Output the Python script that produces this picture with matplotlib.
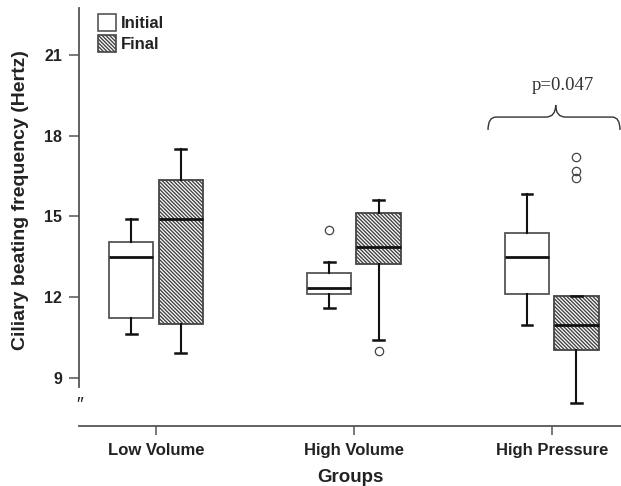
import matplotlib
matplotlib.use("Agg")
import matplotlib.pyplot as plt
from matplotlib.patches import Patch, PathPatch
from matplotlib.path import Path
from matplotlib.transforms import blended_transform_factory

plt.rcParams["font.family"] = ["Liberation Sans", "DejaVu Sans"]
plt.rcParams["hatch.linewidth"] = 1.0

groups = ["Low Volume", "High Volume", "High Pressure"]
# five-number summaries: (whislo, q1, med, q3, whishi)
initial = [(10.64, 11.22, 13.50, 14.06, 14.91),
           (11.61, 12.12, 12.33, 12.89, 13.31),
           (10.96, 12.13, 13.49, 14.37, 15.85)]
final = [(9.90, 10.99, 14.91, 16.37, 17.51),
         (10.40, 13.23, 13.88, 15.14, 15.62),
         (8.07, 10.04, 10.97, 12.03, 12.03)]
initial_out = [[], [14.49], []]
final_out = [[], [10.0], [17.20, 16.71, 16.42]]
yticks = [9, 12, 15, 18, 21]
p_text = "p=0.047"

EDGE, DARK = "#555555", "#111111"
OFF, W = 0.125, 0.224
HATCH = "\\" * 9


def stats(rows, outs):
    return [dict(whislo=a, q1=b, med=c, q3=d, whishi=e, fliers=f)
            for (a, b, c, d, e), f in zip(rows, outs)]


fig = plt.figure(figsize=(6.21, 4.86), dpi=100)
ax = fig.add_axes([79 / 621, 1 - 426 / 486, 542 / 621, 418 / 486])

props = dict(widths=W, patch_artist=True, manage_ticks=False, capwidths=0.055,
             whiskerprops=dict(color=DARK, lw=1.5),
             capprops=dict(color=DARK, lw=1.8),
             medianprops=dict(color=DARK, lw=2.0),
             flierprops=dict(marker="o", ms=6, mfc="none", mec="#444444", mew=0.9))
xs = range(len(groups))
ax.bxp(stats(initial, initial_out), positions=[x - OFF for x in xs],
       boxprops=dict(facecolor="white", edgecolor=EDGE, lw=1.3), **props)
ax.bxp(stats(final, final_out), positions=[x + OFF for x in xs],
       boxprops=dict(facecolor="white", edgecolor="#444444", lw=1.3, hatch=HATCH), **props)

ax.set_xlim(-0.389, 2.35)
ax.set_ylim(7.20, 22.76)
ax.spines[["top", "right"]].set_visible(False)
for s in ("left", "bottom"):
    ax.spines[s].set_color(EDGE)
    ax.spines[s].set_linewidth(1.3)
ax.spines["left"].set_bounds(8.66, 22.76)
ax.set_yticks(yticks)
ax.set_xticks(list(xs), groups)
ax.tick_params(axis="y", length=7, width=1.1, color=EDGE, pad=5, labelsize=11.5)
ax.tick_params(axis="x", length=6.5, width=1.1, color=EDGE, pad=6, labelsize=12)
for lab in ax.get_xticklabels() + ax.get_yticklabels():
    lab.set_fontweight("bold")
    lab.set_color("#222222")

ax.set_ylabel("Ciliary beating frequency (Hertz)", fontsize=14, fontweight="bold",
              color="#222222")
ax.yaxis.set_label_coords(-0.092, 0.541)
ax.set_xlabel("Groups", fontsize=13.5, fontweight="bold", color="#222222", labelpad=7.5)

# axis break mark
tr = blended_transform_factory(ax.transAxes, ax.transData)
ax.text(0.0, 7.95, "\u2033", transform=tr, ha="center", va="center",
        fontsize=14, style="italic", color="#222222")

# brace over the High Pressure group
x0, x1, xm = 1.678, 2.345, 2.02
ye, yl, yp = 18.22, 18.70, 19.15
verts = [(x0, ye), (x0, yl), (x0 + 0.04, yl), (x0 + 0.06, yl),
         (xm - 0.05, yl), (xm, yl), (xm, yp),
         (xm, yl), (xm + 0.05, yl),
         (x1 - 0.06, yl), (x1 - 0.04, yl), (x1, yl), (x1, ye)]
codes = [Path.MOVETO, Path.CURVE3, Path.CURVE3, Path.LINETO,
         Path.LINETO, Path.CURVE3, Path.CURVE3,
         Path.CURVE3, Path.CURVE3,
         Path.LINETO, Path.LINETO, Path.CURVE3, Path.CURVE3]
ax.add_patch(PathPatch(Path(verts, codes), fill=False, ec="#333333", lw=1.0,
                       clip_on=False))
ax.text(2.057, 19.86, p_text, ha="center", va="center", fontsize=13.5,
        family=["Liberation Serif", "DejaVu Serif"], color="#333333")

handles = [Patch(facecolor="white", edgecolor=EDGE, lw=1.2, label="Initial"),
           Patch(facecolor="white", edgecolor="#444444", lw=1.2, hatch=HATCH, label="Final")]
leg = ax.legend(handles=handles, loc="upper left", bbox_to_anchor=(98 / 621, 1 - 14 / 486),
                bbox_transform=fig.transFigure, frameon=False, borderpad=0,
                borderaxespad=0, handlelength=1.08, handleheight=1.15,
                handletextpad=0.3, labelspacing=0.25, prop=dict(size=12, weight="bold"))
for t in leg.get_texts():
    t.set_color("#222222")

fig.savefig("out.png", dpi=100)
